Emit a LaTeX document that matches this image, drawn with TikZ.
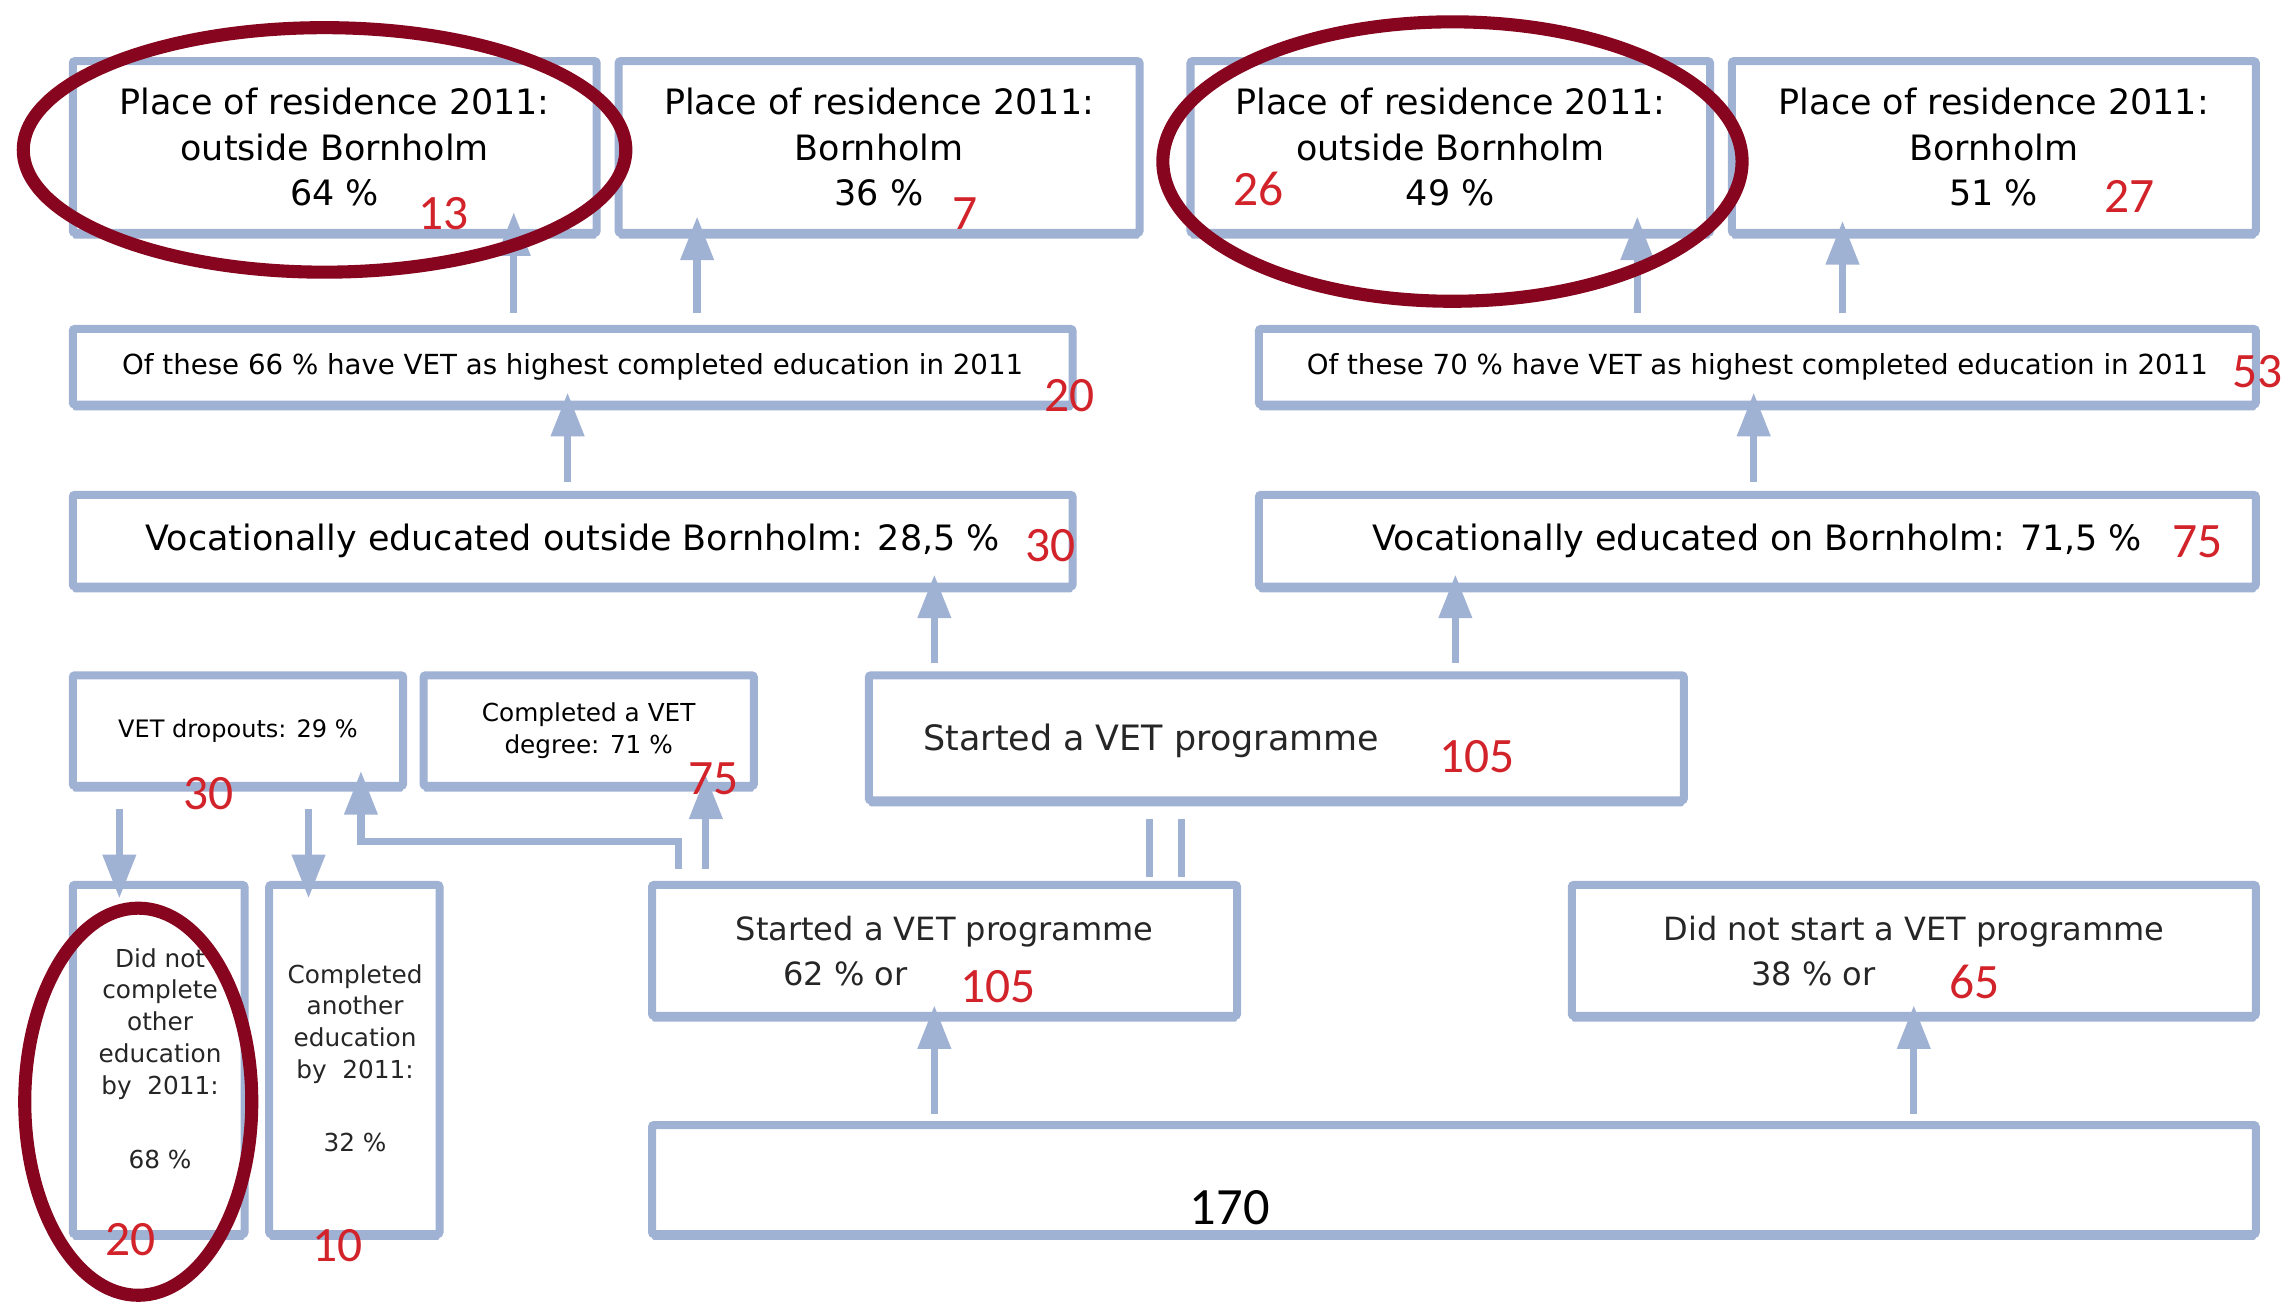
\documentclass[tikz,border=0pt]{standalone}
\usepackage{fontspec}
\setmainfont{DejaVu Sans}
\newfontfamily\numfont{Carlito}
\usetikzlibrary{arrows.meta,shadows,calc}
\definecolor{boxc}{RGB}{160,178,212}
\definecolor{numred}{RGB}{210,35,42}
\definecolor{ringred}{RGB}{135,5,30}
\newcommand\szA{\fontsize{24}{31}\selectfont}
\newcommand\szB{\fontsize{19}{23}\selectfont}
\newcommand\szD{\fontsize{17}{22}\selectfont}
\newcommand\szE{\fontsize{22}{29}\selectfont}
\newcommand\szF{\fontsize{17}{21.8}\selectfont}
\begin{document}
\begin{tikzpicture}[x=1pt,y=-1pt,
  box/.style={draw=boxc, line width=5.5pt, fill=white, rectangle, inner sep=0pt,
    rounded corners=1.5pt, align=center,
    drop shadow={shadow xshift=0pt, shadow yshift=-4pt, fill=boxc, opacity=1}},
  txt/.style={inner sep=0pt, align=center, text=black!85},
  num/.style={inner sep=0pt, text=numred, font=\numfont\fontsize{34}{34}\selectfont},
  arr/.style={draw=boxc, line width=5pt, -{Triangle[width=22pt,length=30pt]}},
  link/.style={draw=boxc, line width=4.5pt},
  ring/.style={draw=ringred, line width=9pt}]
\useasboundingbox (0,0) rectangle (1568,895);
\fill[white] (0,0) rectangle (1568,895);

% boxes
\node[box, minimum width=360pt, minimum height=118pt, font=\szA] (a1) at (230,101) {Place of residence 2011:\\outside Bornholm\\64 \%};
\node[box, minimum width=358pt, minimum height=118pt, font=\szA] (a2) at (604,101) {Place of residence 2011:\\Bornholm\\36 \%};
\node[box, minimum width=357pt, minimum height=118pt, font=\szA] (a3) at (996.5,101) {Place of residence 2011:\\outside Bornholm\\49 \%};
\node[box, minimum width=360pt, minimum height=118pt, font=\szA] (a4) at (1370,101) {Place of residence 2011:\\Bornholm\\51 \%};

\node[box, minimum width=687pt, minimum height=52pt, font=\szB] (b1) at (393.5,252) {Of these 66 \% have VET as highest completed education in 2011};
\node[box, minimum width=685pt, minimum height=52pt, font=\szB] (b2) at (1207.5,252) {Of these 70 \% have VET as highest completed education in 2011};

\node[box, minimum width=687pt, minimum height=63pt, font=\szA] (c1) at (393.5,371.5) {Vocationally educated outside Bornholm: 28,5 \%};
\node[box, minimum width=685pt, minimum height=63pt, font=\szA] (c2) at (1207.5,371.5) {Vocationally educated on Bornholm: 71,5 \%};

\node[box, minimum width=227pt, minimum height=76pt, font=\fontsize{16.5}{22}\selectfont] (d1) at (163.5,502) {VET dropouts: 29 \%};
\node[box, minimum width=227pt, minimum height=76pt, font=\szD] (d2) at (404.5,502) {Completed a VET\\degree: 71 \%};
\node[box, minimum width=560pt, minimum height=86pt] (d3) at (877,507) {};

\node[box, minimum width=402pt, minimum height=90pt] (e1) at (649,653) {};
\node[box, minimum width=470pt, minimum height=90pt] (e2) at (1315,653) {};

\node[box, minimum width=118pt, minimum height=240pt] (f1) at (109,728) {};
\node[box, minimum width=117pt, minimum height=240pt] (f2) at (243.5,728) {};

\node[box, minimum width=1102pt, minimum height=75pt] (g) at (999,810.5) {};

% texts placed off-centre
\node[txt, font=\szA] (d3t) at (791,509) {Started a VET programme};
\node[txt, font=\szE] (e1t) at (649,640) {Started a VET programme};
\node[txt, font=\szE] (e1p) at (581,669) {62 \% or};
\node[txt, font=\szE] (e2t) at (1315,640) {Did not start a VET programme};
\node[txt, font=\szE] (e2p) at (1246,669) {38 \% or};
\node[txt, font=\szF] (f1t) at (110,703.5) {Did not\\complete\\other\\education\\by~~2011:};
\node[txt, font=\szF] (f1p) at (110,797) {68 \%};
\node[txt, font=\szF] (f2t) at (244,703.5) {Completed\\another\\education\\by~~2011:};
\node[txt, font=\szF] (f2p) at (244,785) {32 \%};
\node[inner sep=0pt, font=\numfont\fontsize{36}{36}\selectfont] (gt) at (845,830) {170};

% connectors
\draw[arr, shorten <=8pt, shorten >=-17pt] (353,0 |- b1.north) -- (353,0 |- a1.south);
\draw[arr, shorten <=8pt, shorten >=-14pt] (479,0 |- b1.north) -- (479,0 |- a2.south);
\draw[arr, shorten <=8pt, shorten >=-14pt] (1125,0 |- b2.north) -- (1125,0 |- a3.south);
\draw[arr, shorten <=8pt, shorten >=-11pt] (1266,0 |- b2.north) -- (1266,0 |- a4.south);
\draw[arr, shorten <=6pt, shorten >=-11pt] (390,0 |- c1.north) -- (390,0 |- b1.south);
\draw[arr, shorten <=6pt, shorten >=-11pt] (1205,0 |- c2.north) -- (1205,0 |- b2.south);
\draw[arr, shorten <=6pt, shorten >=-11pt] (642,0 |- d3.north) -- (642,0 |- c1.south);
\draw[arr, shorten <=6pt, shorten >=-11pt] (1000,0 |- d3.north) -- (1000,0 |- c2.south);
\draw[arr, shorten <=5pt, shorten >=-10pt] (642,0 |- g.north) -- (642,0 |- e1.south);
\draw[arr, shorten <=5pt, shorten >=-10pt] (1315,0 |- g.north) -- (1315,0 |- e2.south);
\draw[arr, shorten <=8pt, shorten >=-10pt] (485,0 |- e1.north) -- (485,0 |- d2.south);
\coordinate (k1) at (466,578);
\coordinate (k2) at (248,578);
\draw[arr, shorten <=8pt, shorten >=-13pt] (466,0 |- e1.north) -- (k1) -- (k2) -- (248,0 |- d1.south);
\draw[arr, shorten <=13pt, shorten >=-12pt] (82,0 |- d1.south) -- (82,0 |- f1.north);
\draw[arr, shorten <=13pt, shorten >=-12pt] (212,0 |- d1.south) -- (212,0 |- f2.north);
\draw[link, shorten <=10pt, shorten >=3pt] (790,0 |- d3.south) -- (790,0 |- e1.north);
\draw[link, shorten <=10pt, shorten >=3pt] (812,0 |- d3.south) -- (812,0 |- e1.north);

% red numbers
\node[num] (n13) at (305,147) {13};
\node[num] (n7) at (663,147) {7};
\node[num] (n26) at (865,130) {26};
\node[num] (n27) at (1463,135) {27};
\node[num] (n20a) at (735,272) {20};
\node[num] (n53) at (1551,255) {53};
\node[num] (n30a) at (722,375) {30};
\node[num] (n75a) at (1510,372) {75};
\node[num] (n30b) at (143,545) {30};
\node[num] (n75b) at (490,535) {75};
\node[num] (n105a) at (1015,520) {105};
\node[num] (n105b) at (686,678) {105};
\node[num] (n65) at (1357,675) {65};
\node[num] (n20b) at (90,852) {20};
\node[num] (n10) at (232,856) {10};

% rings
\draw[ring] (223,103) ellipse [x radius=207, y radius=84];
\draw[ring] (998,111) ellipse [x radius=199, y radius=96];
\draw[ring] (95,757) ellipse [x radius=78, y radius=133];
\end{tikzpicture}
\end{document}
